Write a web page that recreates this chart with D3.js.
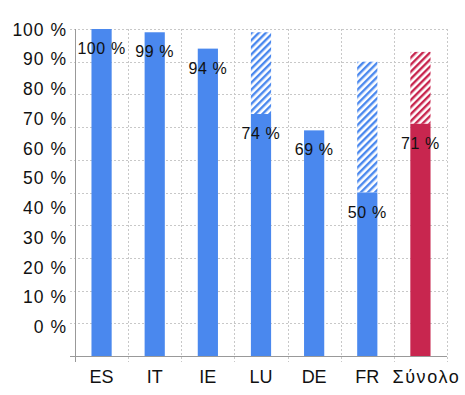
<!DOCTYPE html>
<html>
<head>
  <meta charset="utf-8">
  <title>bar chart</title>
  <style>
  body { margin: 0; background: #fff; }
  svg { font-family: "Liberation Sans", Arial, Helvetica, sans-serif; }
  .grid { stroke: #c8c8c8; stroke-dasharray: 2,2; stroke-width: 1; }
  .axisline { stroke: #999; stroke-width: 1; }
  </style>
</head>
<body>
  <svg width="465" height="395"></svg>
  <script src="https://d3js.org/d3.v7.min.js"></script>
  <script>
  // data
  var categories = ["ES", "IT", "IE", "LU", "DE", "FR", "Σύνολο"];
  var solidValues = [100, 99, 94, 74, 69, 50, 71];
  var totalValues = [100, 99, 94, 99, 69, 90, 93];   // top of hatched part
  var tickLabels = ["0 %", "10 %", "20 %", "30 %", "40 %", "50 %", "60 %", "70 %", "80 %", "90 %", "100 %"];
  var blue = "#4a88ee", red = "#c8264f";

  var svg = d3.select("svg");
  var plotLeft = 75, plotRight = 447, plotTop = 29, plotBottom = 356;

  var x = d3.scaleBand().domain(categories).range([plotLeft, plotRight]).paddingInner(0.62).paddingOuter(0.31);
  var y = d3.scaleLinear().domain([0, 100]).range([plotBottom, plotTop]);
  // the tick labels in the original are spread evenly, not on the gridlines
  var yLab = d3.scalePoint().domain(tickLabels).range([327, 29.5]);

  var defs = svg.append("defs");
  function hatch(id, color) {
    var p = defs.append("pattern").attr("id", id)
      .attr("patternUnits", "userSpaceOnUse")
      .attr("width", 5).attr("height", 5)
      .attr("patternTransform", "rotate(45)");
    p.append("rect").attr("width", 5).attr("height", 5).attr("fill", "#fff");
    p.append("rect").attr("width", 2.4).attr("height", 5).attr("fill", color);
  }
  hatch("hb", blue);
  hatch("hr", red);

  // grid
  var g = svg.append("g");
  g.selectAll(".hgrid").data(d3.range(0, 101, 10)).enter().append("line")
    .attr("class", "grid")
    .attr("x1", plotLeft - 5).attr("x2", plotRight)
    .attr("y1", function(d) { return Math.round(y(d)) + 0.5; })
    .attr("y2", function(d) { return Math.round(y(d)) + 0.5; });
  var step = x.step();
  g.selectAll(".vgrid").data(d3.range(0, categories.length + 1)).enter().append("line")
    .attr("class", "grid")
    .attr("x1", function(i) { return Math.round(plotLeft + i * step) + 0.5; })
    .attr("x2", function(i) { return Math.round(plotLeft + i * step) + 0.5; })
    .attr("y1", plotTop).attr("y2", plotBottom + 6);

  // bars
  var bars = svg.append("g").selectAll("g").data(categories).enter().append("g");
  bars.append("rect")
    .attr("x", function(d) { return x(d); })
    .attr("width", x.bandwidth())
    .attr("y", function(d, i) { return y(totalValues[i]); })
    .attr("height", function(d, i) { return y(solidValues[i]) - y(totalValues[i]); })
    .attr("fill", function(d, i) { return i == categories.length - 1 ? "url(#hr)" : "url(#hb)"; });
  bars.append("rect")
    .attr("x", function(d) { return x(d); })
    .attr("width", x.bandwidth())
    .attr("y", function(d, i) { return y(solidValues[i]); })
    .attr("height", function(d, i) { return plotBottom - y(solidValues[i]); })
    .attr("fill", function(d, i) { return i == categories.length - 1 ? red : blue; });

  // axis lines
  svg.append("line").attr("class", "axisline")
    .attr("x1", plotLeft + 0.5).attr("x2", plotLeft + 0.5).attr("y1", plotTop).attr("y2", plotBottom + 6);
  svg.append("line").attr("class", "axisline")
    .attr("x1", plotLeft - 5).attr("x2", plotRight).attr("y1", plotBottom + 0.5).attr("y2", plotBottom + 0.5);

  // value labels
  bars.append("text")
    .attr("x", function(d) { return x(d) + x.bandwidth() / 2; })
    .attr("y", function(d, i) { return y(solidValues[i]) + 25; })
    .attr("text-anchor", "middle")
    .attr("font-size", 16)
    .attr("letter-spacing", 0.6)
    .attr("fill", "#111")
    .text(function(d, i) { return solidValues[i] + " %"; });

  // y tick labels
  svg.append("g").selectAll("text").data(tickLabels).enter().append("text")
    .attr("x", 67)
    .attr("y", function(d) { return yLab(d) + 6; })
    .attr("text-anchor", "end")
    .attr("font-size", 17.5)
    .attr("letter-spacing", 1)
    .attr("fill", "#111")
    .text(function(d) { return d; });

  // x labels (the long greek one sits a little to the right in the original)
  svg.append("g").selectAll("text").data(categories).enter().append("text")
    .attr("x", function(d) { return x(d) + x.bandwidth() / 2; })
    .attr("dx", function(d, i) { return i == categories.length - 1 ? 6 : 0; })
    .attr("y", 383)
    .attr("text-anchor", "middle")
    .attr("font-size", 18)
    .attr("letter-spacing", function(d, i) { return i == categories.length - 1 ? 1.6 : 0; })
    .attr("fill", "#111")
    .text(function(d) { return d; });
  </script>
</body>
</html>
